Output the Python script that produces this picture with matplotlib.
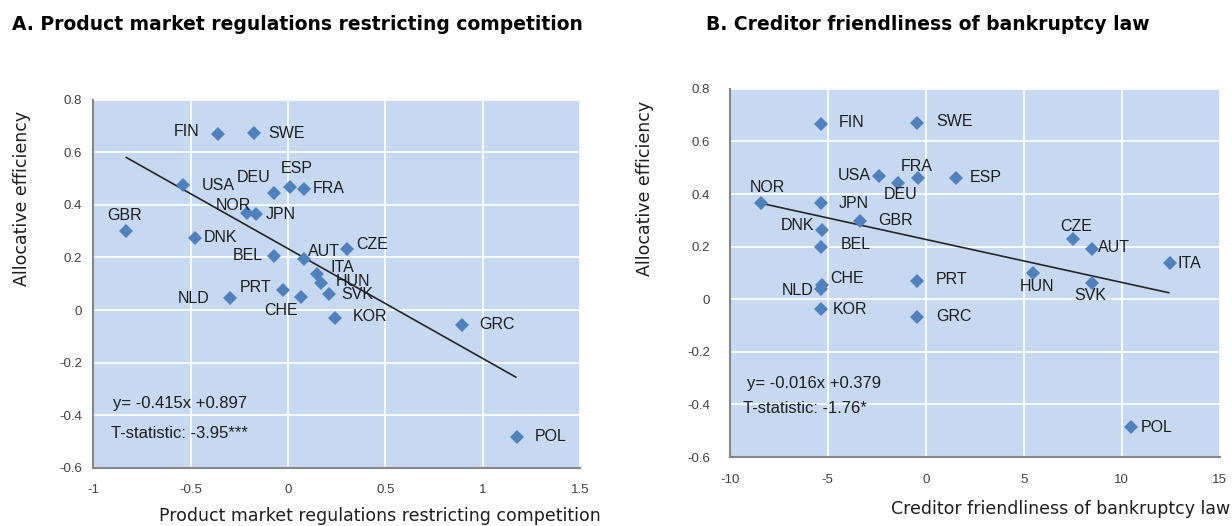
import matplotlib
matplotlib.use("Agg")
import matplotlib.pyplot as plt

plt.rcParams["font.family"] = ["Liberation Sans", "DejaVu Sans"]

# Panel A: product market regulation vs allocative efficiency
countriesA = ["FIN", "SWE", "USA", "DEU", "ESP", "FRA", "NOR", "JPN", "GBR", "DNK",
              "BEL", "AUT", "CZE", "ITA", "HUN", "SVK", "KOR", "GRC", "PRT", "CHE",
              "NLD", "POL"]
pmrA = [-0.36, -0.175, -0.54, -0.07, 0.01, 0.08, -0.21, -0.165, -0.83, -0.48,
        -0.07, 0.08, 0.305, 0.15, 0.17, 0.21, 0.24, 0.895, -0.025, 0.065,
        -0.30, 1.175]
effA = [0.668, 0.673, 0.474, 0.445, 0.466, 0.462, 0.370, 0.365, 0.300, 0.274,
        0.207, 0.193, 0.233, 0.138, 0.104, 0.060, -0.030, -0.058, 0.078, 0.048,
        0.044, -0.482]
trendA_x = [-0.83, 1.17]
trendA_y = [0.58, -0.255]

# Panel B: creditor friendliness vs allocative efficiency
countriesB = ["FIN", "SWE", "USA", "DEU", "FRA", "ESP", "NOR", "JPN", "GBR", "DNK",
              "BEL", "CHE", "NLD", "KOR", "PRT", "GRC", "CZE", "AUT", "ITA", "HUN",
              "SVK", "POL"]
credB = [-5.35, -0.45, -2.4, -1.4, -0.4, 1.55, -8.4, -5.35, -3.35, -5.3,
         -5.35, -5.3, -5.35, -5.35, -0.45, -0.45, 7.5, 8.5, 12.45, 5.5,
         8.5, 10.45]
effB = [0.667, 0.671, 0.470, 0.441, 0.460, 0.462, 0.365, 0.365, 0.299, 0.264,
        0.200, 0.055, 0.040, -0.037, 0.070, -0.066, 0.229, 0.191, 0.137, 0.099,
        0.061, -0.487]
trendB_x = [-8.4, 12.4]
trendB_y = [0.365, 0.025]

yticks = [-0.6, -0.4, -0.2, 0, 0.2, 0.4, 0.6, 0.8]
ytick_labels = ["-0.6", "-0.4", "-0.2", "0", "0.2", "0.4", "0.6", "0.8"]
xticksA = [-1, -0.5, 0, 0.5, 1, 1.5]
xtick_labelsA = ["-1", "-0.5", "0", "0.5", "1", "1.5"]
xticksB = [-10, -5, 0, 5, 10, 15]
xtick_labelsB = ["-10", "-5", "0", "5", "10", "15"]

# label offsets in pixels (dx, dy, ha)
offA = {"FIN": (-18, 3, "right"), "SWE": (14, 0, "left"), "USA": (19, 0, "left"),
        "DEU": (-21, 15, "center"), "ESP": (7, 19, "center"), "FRA": (9, 0, "left"),
        "NOR": (-14, 7, "center"), "JPN": (10, 0, "left"), "GBR": (-2, 16, "center"),
        "DNK": (9, 0, "left"), "BEL": (-11, 0, "right"), "AUT": (4, 8, "left"),
        "CZE": (9, 4, "left"), "ITA": (13, 6, "left"), "HUN": (15, 1, "left"),
        "SVK": (12, 0, "left"), "KOR": (18, 1, "left"), "GRC": (17, 1, "left"),
        "PRT": (-12, 2, "right"), "CHE": (-20, -13, "center"), "NLD": (-20, 0, "right"),
        "POL": (18, 0, "left")}
offB = {"FIN": (18, 1, "left"), "SWE": (19, 1, "left"), "USA": (-8, 0, "right"),
        "FRA": (-1, 12, "center"), "DEU": (2, -11, "center"), "ESP": (14, 0, "left"),
        "NOR": (6, 16, "center"), "JPN": (18, 0, "left"), "GBR": (18, 0, "left"),
        "DNK": (-8, 4, "right"), "BEL": (20, 2, "left"), "CHE": (8, 6, "left"),
        "NLD": (-7, -2, "right"), "KOR": (12, 0, "left"), "PRT": (19, 1, "left"),
        "GRC": (19, 0, "left"), "CZE": (3, 13, "center"), "AUT": (6, 2, "left"),
        "ITA": (8, 0, "left"), "HUN": (4, -13, "center"), "SVK": (-2, -12, "center"),
        "POL": (10, 0, "left")}

bg = "#c6d9f1"
marker_col = "#4f81bd"
txt = "#1e1e1e"


def drawPanel(ax, xs, ys, names, offsets, tx, ty):
    ax.set_facecolor(bg)
    ax.grid(True, color="white", linewidth=1.2)
    ax.set_axisbelow(True)
    ax.plot(tx, ty, color="#262626", linewidth=1.2, zorder=2)
    ax.plot(xs, ys, "D", color=marker_col, markersize=7.5, zorder=3, markeredgewidth=0)
    for name, x, y in zip(names, xs, ys):
        dx, dy, ha = offsets[name]
        ax.annotate(name, (x, y), xytext=(dx, dy), textcoords="offset pixels",
                    ha=ha, va="center", fontsize=11.5, color=txt, zorder=4)
    for side in ["top", "right"]:
        ax.spines[side].set_visible(False)
    for side in ["left", "bottom"]:
        ax.spines[side].set_color("#868686")
        ax.spines[side].set_linewidth(1.5)
    ax.tick_params(length=0, labelsize=9.5, labelcolor="#404040")
    ax.set_ylim(-0.6, 0.8)
    ax.set_yticks(yticks)
    ax.set_yticklabels(ytick_labels)


fig = plt.figure(figsize=(12.32, 5.26), dpi=100)

axA = fig.add_axes([0.0757, 0.1106, 0.3951, 0.7000])
drawPanel(axA, pmrA, effA, countriesA, offA, trendA_x, trendA_y)
axA.set_xlim(-1, 1.5)
axA.set_xticks(xticksA)
axA.set_xticklabels(xtick_labelsA)
axA.tick_params(axis="x", pad=12)
axA.tick_params(axis="y", pad=8)
axA.text(-0.9, -0.357, "y= -0.415x +0.897", fontsize=12, color=txt, va="center")
axA.text(-0.91, -0.471, "T-statistic: -3.95***", fontsize=12, color=txt, va="center")

axB = fig.add_axes([0.5923, 0.1310, 0.3977, 0.7000])
drawPanel(axB, credB, effB, countriesB, offB, trendB_x, trendB_y)
axB.set_xlim(-10, 15)
axB.set_xticks(xticksB)
axB.set_xticklabels(xtick_labelsB)
axB.tick_params(axis="x", pad=12)
axB.tick_params(axis="y", pad=14)
axB.text(-9.1, -0.322, "y= -0.016x +0.379", fontsize=12, color=txt, va="center")
axB.text(-9.3, -0.417, "T-statistic: -1.76*", fontsize=12, color=txt, va="center")

fig.text(12 / 1232, 1 - 25 / 526, "A. Product market regulations restricting competition",
         fontsize=13.5, fontweight="bold", color="black", va="center", family="DejaVu Sans")
fig.text(706 / 1232, 1 - 25 / 526, "B. Creditor friendliness of bankruptcy law",
         fontsize=13.5, fontweight="bold", color="black", va="center", family="DejaVu Sans")

fig.text(22 / 1232, 1 - 198 / 526, "Allocative efficiency", rotation=90, family="DejaVu Sans",
         fontsize=12.5, color=txt, ha="center", va="center")
fig.text(645 / 1232, 1 - 188 / 526, "Allocative efficiency", rotation=90, family="DejaVu Sans",
         fontsize=12.5, color=txt, ha="center", va="center")
fig.text(380 / 1232, 1 - 516 / 526, "Product market regulations restricting competition",
         fontsize=12.5, color=txt, ha="center", va="center", family="DejaVu Sans")
fig.text(1230 / 1232, 1 - 509 / 526, "Creditor friendliness of bankruptcy law",
         fontsize=12.5, color=txt, ha="right", va="center", family="DejaVu Sans")

fig.savefig("out.png", dpi=100)
